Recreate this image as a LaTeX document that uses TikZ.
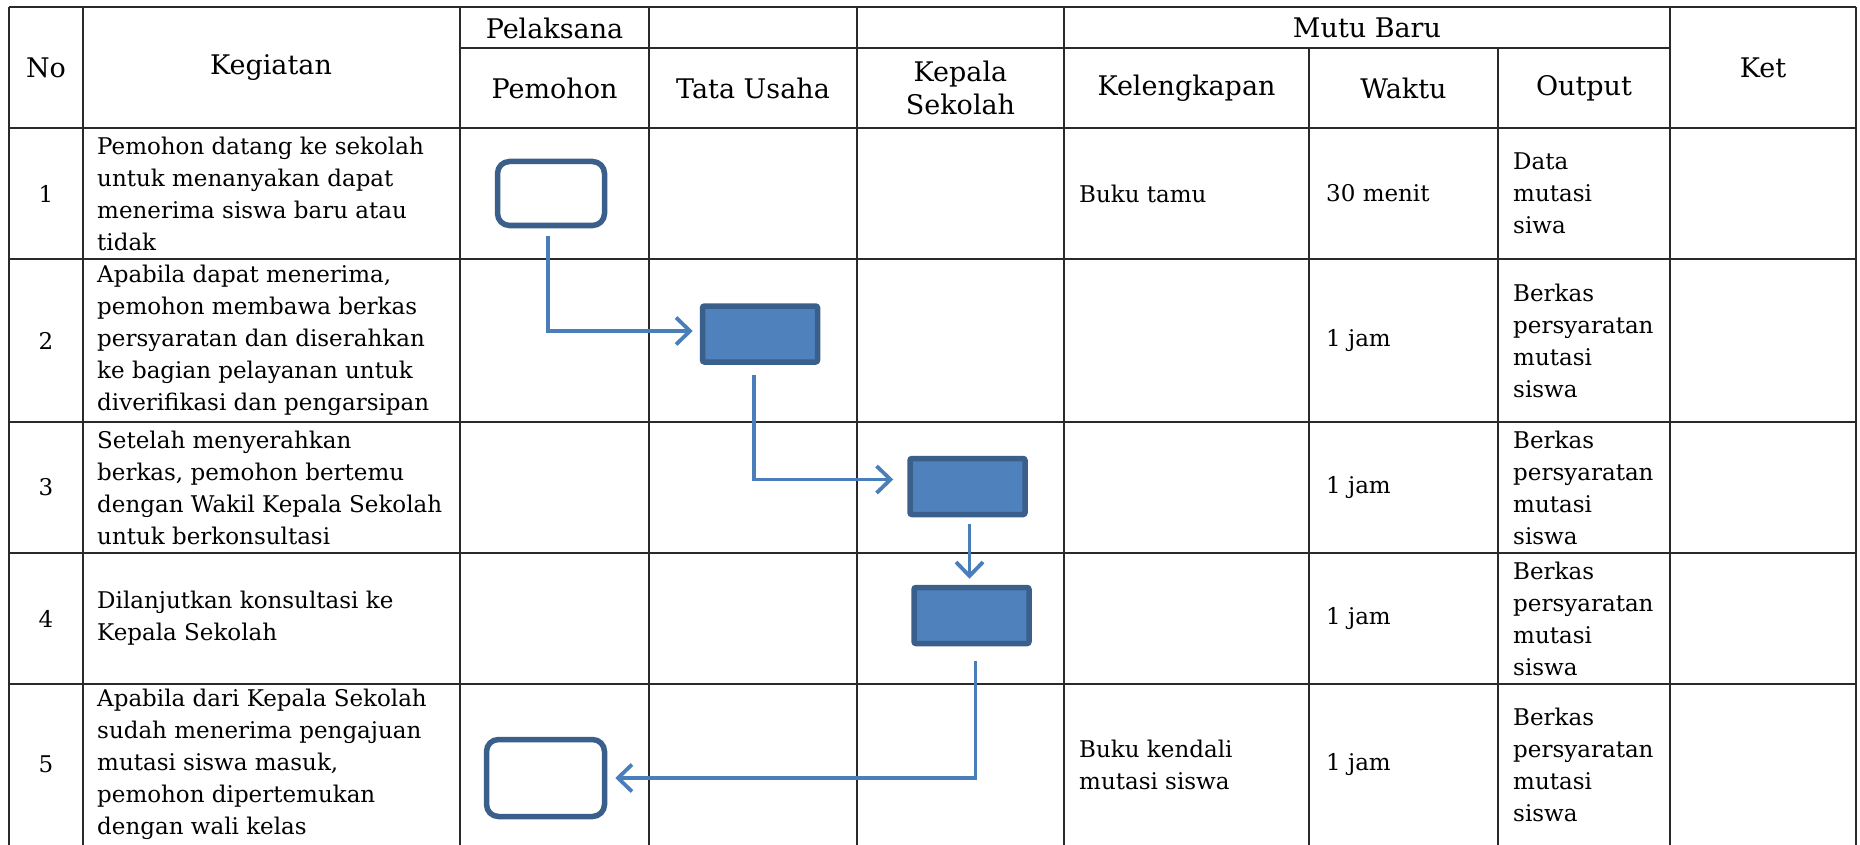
\documentclass[tikz,border=0pt]{standalone}
\usepackage{fontspec}
\setmainfont{DejaVu Serif}
\usetikzlibrary{arrows.meta}
\definecolor{boxedge}{HTML}{3A5F8B}
\definecolor{boxfill}{HTML}{4F81BD}
\definecolor{flowc}{HTML}{4A7EBB}
\definecolor{gridc}{HTML}{2A2A2A}
\begin{document}
\begin{tikzpicture}[x=1pt,y=-1pt,
  grid/.style={line width=1.6pt, gridc},
  hdr/.style={font=\fontsize{27}{33}\selectfont, align=center, inner sep=0pt},
  body/.style={font=\fontsize{23}{32}\selectfont, align=left, anchor=west, inner sep=0pt},
  num/.style={font=\fontsize{23}{32}\selectfont, inner sep=0pt},
  startbox/.style={draw=boxedge, line width=5.5pt, rounded corners=12pt, fill=white, inner sep=0pt},
  procbox/.style={draw=boxedge, line width=5.5pt, fill=boxfill, rounded corners=2pt, minimum width=115pt, minimum height=56pt, inner sep=0pt},
  flow/.style={draw=flowc, line width=3.8pt, -{Straight Barb[length=14pt,width=27pt,line width=3.8pt]}}
]
\useasboundingbox (0,0) rectangle (1860,845);
% grid
\draw[grid] (9,7) -- (1856,7);
\draw[grid] (460,48) -- (1670,48);
\foreach \yy in {128,259,422,553,684} \draw[grid] (9,\yy) -- (1856,\yy);
\foreach \xx in {9,83,460,649,857,1064,1670,1856} \draw[grid] (\xx,7) -- (\xx,845);
\foreach \xx in {1309,1498} \draw[grid] (\xx,48) -- (\xx,845);
% header
\node[hdr] (hNo) at (46,68) {No};
\node[hdr] (hKeg) at (271,68) {Kegiatan};
\node[hdr] (hPel) at (554.5,28) {Pelaksana};
\node[hdr] (hPem) at (554.5,88) {Pemohon};
\node[hdr] (hTU) at (753,88) {Tata Usaha};
\node[hdr] (hKS) at (960.5,88) {Kepala\\Sekolah};
\node[hdr] (hMutu) at (1367,28) {Mutu Baru};
\node[hdr] (hKel) at (1186.5,88) {Kelengkapan};
\node[hdr] (hWak) at (1403.5,88) {Waktu};
\node[hdr] (hOut) at (1584,88) {Output};
\node[hdr] (hKet) at (1763,68) {Ket};
% numbers
\node[num] (n1) at (46,193.5) {1};
\node[num] (n2) at (46,340.5) {2};
\node[num] (n3) at (46,487.5) {3};
\node[num] (n4) at (46,618.5) {4};
\node[num] (n5) at (46,764.5) {5};
% kegiatan
\node[body] (k1) at (97,193.5) {Pemohon datang ke sekolah\\untuk menanyakan dapat\\menerima siswa baru atau\\tidak};
\node[body] (k2) at (97,340.5) {Apabila dapat menerima,\\pemohon membawa berkas\\persyaratan dan diserahkan\\ke bagian pelayanan untuk\\diverifikasi dan pengarsipan};
\node[body] (k3) at (97,487.5) {Setelah menyerahkan\\berkas, pemohon bertemu\\dengan Wakil Kepala Sekolah\\untuk berkonsultasi};
\node[body] (k4) at (97,618.5) {Dilanjutkan konsultasi ke\\Kepala Sekolah};
\node[body] (k5) at (97,764.5) {Apabila dari Kepala Sekolah\\sudah menerima pengajuan\\mutasi siswa masuk,\\pemohon dipertemukan\\dengan wali kelas};
% kelengkapan
\node[body] (l1) at (1079,193.5) {Buku tamu};
\node[body] (l5) at (1079,764.5) {Buku kendali\\mutasi siswa};
% waktu
\node[body] (w1) at (1326,193.5) {30 menit};
\node[body] (w2) at (1326,340.5) {1 jam};
\node[body] (w3) at (1326,487.5) {1 jam};
\node[body] (w4) at (1326,618.5) {1 jam};
\node[body] (w5) at (1326,764.5) {1 jam};
% output
\node[body] (o1) at (1513,193.5) {Data\\mutasi\\siwa};
\node[body] (o2) at (1513,340.5) {Berkas\\persyaratan\\mutasi\\siswa};
\node[body] (o3) at (1513,487.5) {Berkas\\persyaratan\\mutasi\\siswa};
\node[body] (o4) at (1513,618.5) {Berkas\\persyaratan\\mutasi\\siswa};
\node[body] (o5) at (1513,764.5) {Berkas\\persyaratan\\mutasi\\siswa};
% flow shapes
\node[startbox, minimum width=107pt, minimum height=64pt] (b1) at (551,193.5) {};
\node[procbox] (b2) at (760,334) {};
\node[procbox] (b3) at (967.5,486.5) {};
\node[procbox] (b4) at (971.5,615.5) {};
\node[startbox, minimum width=118pt, minimum height=77pt] (b5) at (545.5,778) {};
% connectors
\draw[flow] ([xshift=-3pt,yshift=-8pt]b1.south) |- ([xshift=-7pt,yshift=3pt]b2.west);
\draw[flow] ([xshift=-6pt,yshift=-10pt]b2.south) |- ([xshift=-14pt,yshift=7pt]b3.west);
\draw[flow] ([xshift=2pt,yshift=-7pt]b3.south) -- ([xshift=-2pt,yshift=6pt]b4.north);
\draw[flow] ([xshift=4pt,yshift=-15pt]b4.south) |- ([xshift=8pt]b5.east);
\end{tikzpicture}
\end{document}
